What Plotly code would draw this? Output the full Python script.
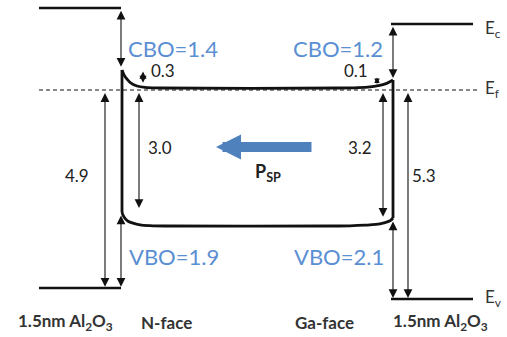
import plotly.graph_objects as go

# ---------------- data (energies in eV relative to E_f, x = schematic position) -------------
al_left_x = [39, 121]
al_left_Ec, al_left_Ev = 2.05, -4.95
al_right_x = [391, 473]
al_right_Ec, al_right_Ev = 1.65, -5.225
ef_x = [39, 477]
ef_E = [0, 0]

# GaN conduction band (bending at both interfaces)
cb_x = [122, 124, 127, 131, 137, 145, 160, 340, 358, 370, 378, 386, 393]
cb_E = [0.5, 0.38, 0.27, 0.17, 0.10, 0.065, 0.05, 0.05, 0.06, 0.08, 0.11, 0.16, 0.25]
# GaN valence band
vb_x = [122, 123, 125, 128, 133, 140, 150, 165, 330, 350, 365, 376, 384, 390, 393]
vb_E = [-3.05, -3.13, -3.21, -3.28, -3.33, -3.37, -3.39, -3.4, -3.4, -3.395, -3.38, -3.36, -3.32, -3.27, -3.2]
iface_x = [122, 393]

# dimension arrows: (x, E_start, E_end, head size)
dim_arrows = [
    (121, 2.02, 0.58, 1.6),     # CBO left
    (105, -0.04, -4.92, 1.6),   # 4.9
    (121, -3.1, -4.92, 1.6),    # VBO left
    (139, -0.04, -2.95, 1.6),   # 3.0
    (143, 0.5, 0.18, 1.3),      # 0.3
    (377, 0.35, 0.15, 1.0),     # 0.1
    (393, 1.62, 0.3, 1.6),      # CBO right
    (383, -0.04, -3.17, 1.6),   # 3.2
    (408, -0.04, -5.2, 1.6),    # 5.3
    (393, -3.25, -5.2, 1.6),    # VBO right
]

blue_labels = ["CBO=1.4", "CBO=1.2", "VBO=1.9", "VBO=2.1"]
blue_x = [173, 338, 174, 339]
blue_E = [1.05, 1.05, -4.15, -4.15]

num_labels = ["0.3", "0.1", "3.0", "3.2", "4.9", "5.3"]
num_x = [163, 356, 160, 360, 77, 424]
num_E = [0.5, 0.5, -1.425, -1.425, -2.125, -2.125]

bottom_labels = ["1.5nm Al<sub>2</sub>O<sub>3</sub>", "N-face", "Ga-face", "1.5nm Al<sub>2</sub>O<sub>3</sub>"]
bottom_x = [65, 166, 324, 440]
bottom_E = -5.8

level_labels = ["E<sub>c</sub>", "E<sub>f</sub>", "E<sub>v</sub>"]
level_x = [483, 483, 483]
level_E = [1.52, 0.02, -5.2]

psp_tail = (313, -1.425)
psp_head = (216, -1.425)

# ---------------- figure -------------
BLACK = "#111111"
BLUE_TXT = "#5B8FD3"
BLUE_ARR = "#4F81BD"
FONT = "Lato"

fig = go.Figure()

def line(x, y, w=2.6, dash=None, shape="linear"):
    fig.add_trace(go.Scatter(x=x, y=y, mode="lines",
                             line=dict(color=BLACK, width=w, dash=dash, shape=shape, smoothing=1.0),
                             hoverinfo="skip", showlegend=False))

line(al_left_x, [al_left_Ec] * 2)
line(al_left_x, [al_left_Ev] * 2)
line(al_right_x, [al_right_Ec] * 2)
line(al_right_x, [al_right_Ev] * 2)
line(ef_x, ef_E, w=1, dash="4px,3px")
line(cb_x, cb_E, w=2.8, shape="spline")
line(vb_x, vb_E, w=2.8, shape="spline")
line([iface_x[0], iface_x[0]], [cb_E[0], vb_E[0]], w=2.8)
line([iface_x[1], iface_x[1]], [cb_E[-1], vb_E[-1]], w=2.8)

ann = []
for x, e0, e1, s in dim_arrows:
    ann.append(dict(x=x, y=e1, ax=x, ay=e0, xref="x", yref="y", axref="x", ayref="y",
                    text="", showarrow=True, arrowhead=2, startarrowhead=2,
                    arrowside="end+start", arrowsize=s, startarrowsize=s,
                    arrowwidth=1.1, arrowcolor=BLACK))

# P_SP arrow
ann.append(dict(x=psp_head[0], y=psp_head[1], ax=psp_tail[0], ay=psp_tail[1],
                xref="x", yref="y", axref="x", ayref="y", text="", showarrow=True,
                arrowhead=2, arrowsize=0.5, arrowwidth=10, arrowcolor=BLUE_ARR))

for t, x, y in zip(blue_labels, blue_x, blue_E):
    ann.append(dict(x=x, y=y, text=t, showarrow=False, xref="x", yref="y",
                    font=dict(family=FONT, size=22, color=BLUE_TXT)))
for t, x, y in zip(num_labels, num_x, num_E):
    ann.append(dict(x=x, y=y, text=t, showarrow=False, xref="x", yref="y",
                    font=dict(family=FONT, size=17, color="#222222")))
for t, x in zip(bottom_labels, bottom_x):
    ann.append(dict(x=x, y=bottom_E, text="<b>" + t + "</b>", showarrow=False, xref="x", yref="y",
                    font=dict(family=FONT, size=17, color="#333333")))
for t, x, y in zip(level_labels, level_x, level_E):
    ann.append(dict(x=x, y=y, text=t, showarrow=False, xref="x", yref="y", xanchor="left",
                    font=dict(family=FONT, size=17, color="#333333")))
ann.append(dict(x=268, y=-2.05, text="<b>P<sub>SP</sub></b>", showarrow=False, xref="x", yref="y",
                font=dict(family=FONT, size=18, color="#222222")))

fig.update_layout(
    width=507, height=337, margin=dict(l=0, r=0, t=0, b=0),
    paper_bgcolor="white", plot_bgcolor="white",
    xaxis=dict(range=[0, 507], visible=False, fixedrange=True),
    yaxis=dict(range=[-6.175, 2.25], visible=False, fixedrange=True),
    annotations=ann,
)

fig.write_html("out.html")
